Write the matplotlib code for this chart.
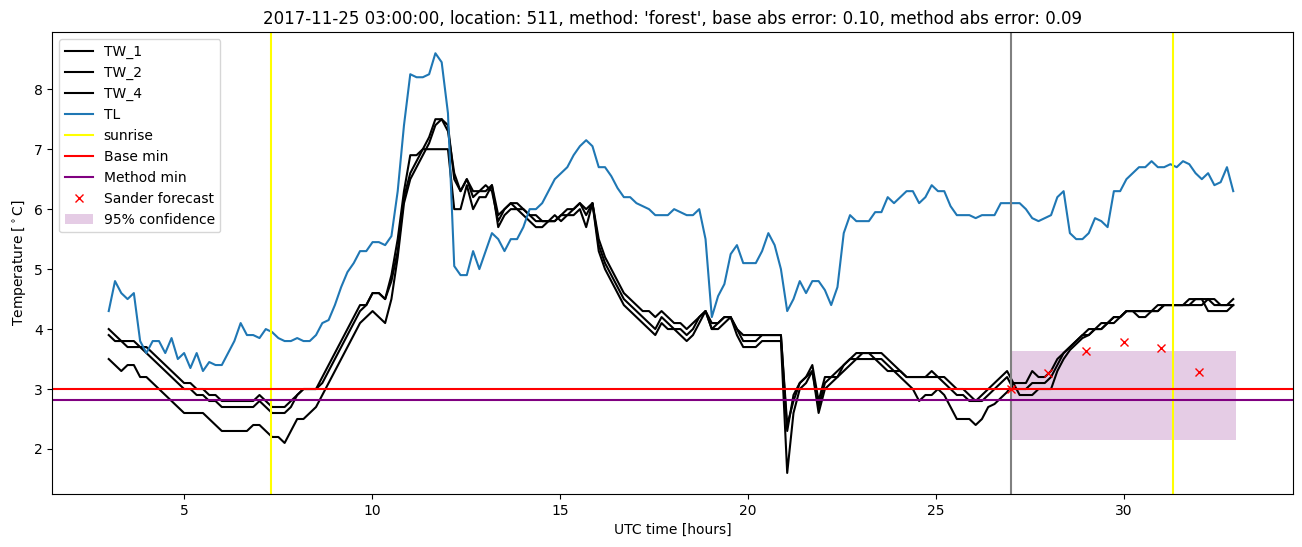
"""Recreate the forest-method minimum temperature forecast plot for location 511."""
from __future__ import annotations

import matplotlib
matplotlib.use("Agg")
import matplotlib.pyplot as plt
import numpy as np


# road sensor data, ~10 minute samples from 03:00 to 32:55 (hours since day start)
START_HOUR = 3.0
END_HOUR = 32 + 55 / 60

TW_1 = [
    4.0, 3.9, 3.8, 3.8, 3.8, 3.7, 3.7, 3.6, 3.5, 3.4, 3.3, 3.2,
    3.1, 3.1, 3.0, 3.0, 2.9, 2.9, 2.8, 2.8, 2.8, 2.8, 2.8, 2.8,
    2.9, 2.8, 2.7, 2.7, 2.7, 2.8, 2.9, 3.0, 3.0, 3.0, 3.1, 3.3,
    3.5, 3.7, 3.9, 4.1, 4.3, 4.4, 4.6, 4.6, 4.5, 4.8, 5.3, 6.2,
    6.6, 6.8, 7.0, 7.2, 7.5, 7.5, 7.3, 6.6, 6.3, 6.5, 6.2, 6.3,
    6.4, 6.3, 5.8, 6.0, 6.1, 6.1, 6.0, 5.9, 5.9, 5.8, 5.8, 5.8,
    5.9, 6.0, 6.0, 6.1, 5.9, 6.1, 5.5, 5.2, 5.0, 4.8, 4.6, 4.5,
    4.4, 4.3, 4.3, 4.2, 4.3, 4.2, 4.1, 4.1, 4.0, 4.1, 4.2, 4.3,
    4.1, 4.1, 4.2, 4.2, 4.0, 3.9, 3.9, 3.9, 3.9, 3.9, 3.9, 3.9,
    2.4, 2.8, 3.1, 3.2, 3.4, 2.8, 3.2, 3.2, 3.3, 3.4, 3.5, 3.6,
    3.6, 3.6, 3.6, 3.6, 3.5, 3.4, 3.3, 3.2, 3.2, 3.2, 3.2, 3.3,
    3.2, 3.2, 3.1, 3.0, 3.0, 2.9, 2.8, 2.9, 3.0, 3.1, 3.2, 3.3,
    3.1, 3.1, 3.1, 3.3, 3.2, 3.2, 3.3, 3.5, 3.6, 3.7, 3.8, 3.9,
    3.9, 4.0, 4.1, 4.1, 4.2, 4.2, 4.3, 4.3, 4.3, 4.3, 4.3, 4.4,
    4.4, 4.4, 4.4, 4.4, 4.5, 4.5, 4.5, 4.5, 4.4, 4.4, 4.4, 4.5,
]
TW_2 = [
    3.9, 3.8, 3.8, 3.7, 3.7, 3.7, 3.6, 3.5, 3.4, 3.3, 3.2, 3.1,
    3.0, 3.0, 2.9, 2.9, 2.8, 2.8, 2.7, 2.7, 2.7, 2.7, 2.7, 2.7,
    2.8, 2.7, 2.6, 2.6, 2.6, 2.7, 2.9, 3.0, 3.0, 3.0, 3.2, 3.4,
    3.6, 3.8, 4.0, 4.2, 4.4, 4.4, 4.6, 4.6, 4.5, 4.9, 5.5, 6.3,
    6.9, 6.9, 7.0, 7.0, 7.0, 7.0, 7.0, 6.0, 6.0, 6.4, 6.0, 6.2,
    6.2, 6.4, 5.7, 5.9, 6.0, 6.0, 5.9, 5.8, 5.7, 5.7, 5.8, 5.9,
    5.8, 5.9, 5.9, 6.0, 5.7, 6.1, 5.4, 5.1, 4.9, 4.7, 4.5, 4.4,
    4.3, 4.2, 4.1, 4.0, 4.2, 4.1, 4.0, 4.0, 3.9, 4.0, 4.2, 4.3,
    4.0, 4.1, 4.2, 4.2, 4.0, 3.8, 3.8, 3.8, 3.9, 3.9, 3.9, 3.9,
    2.3, 2.9, 3.1, 3.2, 3.3, 2.7, 3.1, 3.2, 3.2, 3.4, 3.5, 3.5,
    3.6, 3.6, 3.5, 3.5, 3.4, 3.3, 3.3, 3.2, 3.2, 3.2, 3.2, 3.2,
    3.2, 3.1, 3.0, 2.9, 2.9, 2.8, 2.8, 2.8, 2.9, 3.0, 3.1, 3.2,
    3.0, 3.0, 3.0, 3.1, 3.1, 3.1, 3.2, 3.4, 3.6, 3.7, 3.8, 3.9,
    4.0, 4.0, 4.0, 4.1, 4.1, 4.2, 4.3, 4.3, 4.2, 4.2, 4.3, 4.3,
    4.4, 4.4, 4.4, 4.4, 4.4, 4.5, 4.5, 4.3, 4.3, 4.3, 4.3, 4.4,
]
TW_4 = [
    3.5, 3.4, 3.3, 3.4, 3.4, 3.2, 3.2, 3.1, 3.0, 2.9, 2.8, 2.7,
    2.6, 2.6, 2.6, 2.6, 2.5, 2.4, 2.3, 2.3, 2.3, 2.3, 2.3, 2.4,
    2.4, 2.3, 2.2, 2.2, 2.1, 2.3, 2.5, 2.5, 2.6, 2.7, 2.9, 3.1,
    3.3, 3.5, 3.7, 3.9, 4.1, 4.2, 4.3, 4.2, 4.1, 4.5, 5.2, 6.1,
    6.5, 6.7, 6.9, 7.1, 7.4, 7.5, 7.4, 6.5, 6.3, 6.5, 6.3, 6.3,
    6.3, 6.4, 5.9, 6.0, 6.1, 6.0, 6.0, 5.9, 5.8, 5.8, 5.8, 5.8,
    5.9, 5.9, 6.0, 6.1, 6.0, 6.1, 5.3, 5.0, 4.8, 4.6, 4.4, 4.3,
    4.2, 4.1, 4.0, 3.9, 4.1, 4.0, 4.0, 3.9, 3.8, 3.9, 4.1, 4.3,
    4.0, 4.0, 4.1, 4.2, 3.9, 3.7, 3.7, 3.7, 3.8, 3.8, 3.8, 3.8,
    1.6, 2.6, 3.0, 3.1, 3.3, 2.6, 3.0, 3.1, 3.2, 3.3, 3.4, 3.5,
    3.5, 3.5, 3.5, 3.4, 3.3, 3.3, 3.2, 3.1, 3.0, 2.8, 2.9, 2.9,
    3.0, 2.9, 2.7, 2.5, 2.5, 2.5, 2.4, 2.5, 2.7, 2.75, 2.85, 2.95,
    3.1, 2.9, 2.9, 2.9, 3.0, 3.0, 3.0, 3.3, 3.5, 3.65, 3.75, 3.85,
    3.9, 4.0, 4.0, 4.1, 4.2, 4.2, 4.3, 4.3, 4.3, 4.3, 4.3, 4.3,
    4.4, 4.4, 4.4, 4.4, 4.4, 4.4, 4.4, 4.5, 4.5, 4.4, 4.4, 4.4,
]
TL = [
    4.3, 4.8, 4.6, 4.5, 4.6, 3.8, 3.6, 3.8, 3.8, 3.6, 3.85, 3.5,
    3.6, 3.35, 3.6, 3.3, 3.45, 3.4, 3.4, 3.6, 3.8, 4.1, 3.9, 3.9,
    3.85, 4.0, 3.95, 3.85, 3.8, 3.8, 3.85, 3.8, 3.8, 3.9, 4.1, 4.15,
    4.4, 4.7, 4.95, 5.1, 5.3, 5.3, 5.45, 5.45, 5.4, 5.55, 6.3, 7.4,
    8.25, 8.2, 8.2, 8.25, 8.6, 8.45, 7.6, 5.05, 4.9, 4.9, 5.3, 5.0,
    5.3, 5.6, 5.5, 5.3, 5.5, 5.5, 5.7, 6.0, 6.0, 6.1, 6.3, 6.5,
    6.6, 6.7, 6.9, 7.05, 7.15, 7.05, 6.7, 6.7, 6.55, 6.35, 6.2, 6.2,
    6.1, 6.05, 6.0, 5.9, 5.9, 5.9, 6.0, 5.95, 5.9, 5.9, 6.0, 5.5,
    4.2, 4.55, 4.75, 5.25, 5.4, 5.1, 5.1, 5.1, 5.3, 5.6, 5.4, 5.0,
    4.3, 4.5, 4.8, 4.6, 4.8, 4.8, 4.65, 4.4, 4.7, 5.6, 5.9, 5.8,
    5.8, 5.8, 5.95, 5.95, 6.2, 6.1, 6.2, 6.3, 6.3, 6.1, 6.2, 6.4,
    6.3, 6.3, 6.05, 5.9, 5.9, 5.9, 5.85, 5.9, 5.9, 5.9, 6.1, 6.1,
    6.1, 6.1, 6.0, 5.85, 5.8, 5.85, 5.9, 6.2, 6.3, 5.6, 5.5, 5.5,
    5.6, 5.85, 5.8, 5.7, 6.3, 6.3, 6.5, 6.6, 6.7, 6.7, 6.8, 6.7,
    6.7, 6.75, 6.7, 6.8, 6.75, 6.6, 6.5, 6.6, 6.4, 6.45, 6.7, 6.3,
]

SUNRISE_HOURS = [7.33, 31.32]
FORECAST_START = 27.0
BASE_MIN = 3.0
METHOD_MIN = 2.82

SANDER_HOURS = [27, 28, 29, 30, 31, 32]
SANDER_TEMPS = [3.0, 3.27, 3.63, 3.78, 3.68, 3.28]

CONF_HOURS = [27, 33]
CONF_LOW = 2.15
CONF_HIGH = 3.63

TITLE = ("2017-11-25 03:00:00, location: 511, method: 'forest', "
         "base abs error: 0.10, method abs error: 0.09")


def main() -> None:
    hours = np.linspace(START_HOUR, END_HOUR, len(TL))

    fig, ax = plt.subplots(figsize=(13.02, 5.47), dpi=100)
    fig.subplots_adjust(left=0.0402, right=0.9929, bottom=0.097, top=0.941)

    for name, series in [("TW_1", TW_1), ("TW_2", TW_2), ("TW_4", TW_4)]:
        ax.plot(hours, series, color="black", label=name)
    ax.plot(hours, TL, color="tab:blue", label="TL")

    ax.axvline(FORECAST_START, color="grey")
    for i, h in enumerate(SUNRISE_HOURS):
        ax.axvline(h, color="yellow", label="sunrise" if i == 0 else None)
    ax.axhline(BASE_MIN, color="red", label="Base min")
    ax.axhline(METHOD_MIN, color="purple", label="Method min")

    ax.plot(SANDER_HOURS, SANDER_TEMPS, "rx", label="Sander forecast")
    ax.fill_between(CONF_HOURS, CONF_LOW, CONF_HIGH, color="purple", alpha=0.2,
                    linewidth=0, label="95% confidence")

    ax.set_title(TITLE)
    ax.set_xlabel("UTC time [hours]")
    ax.set_ylabel("Temperature [$^\\circ$C]")
    ax.legend(loc="upper left")

    fig.savefig("out.png", dpi=100)
    plt.close(fig)


if __name__ == "__main__":
    main()
